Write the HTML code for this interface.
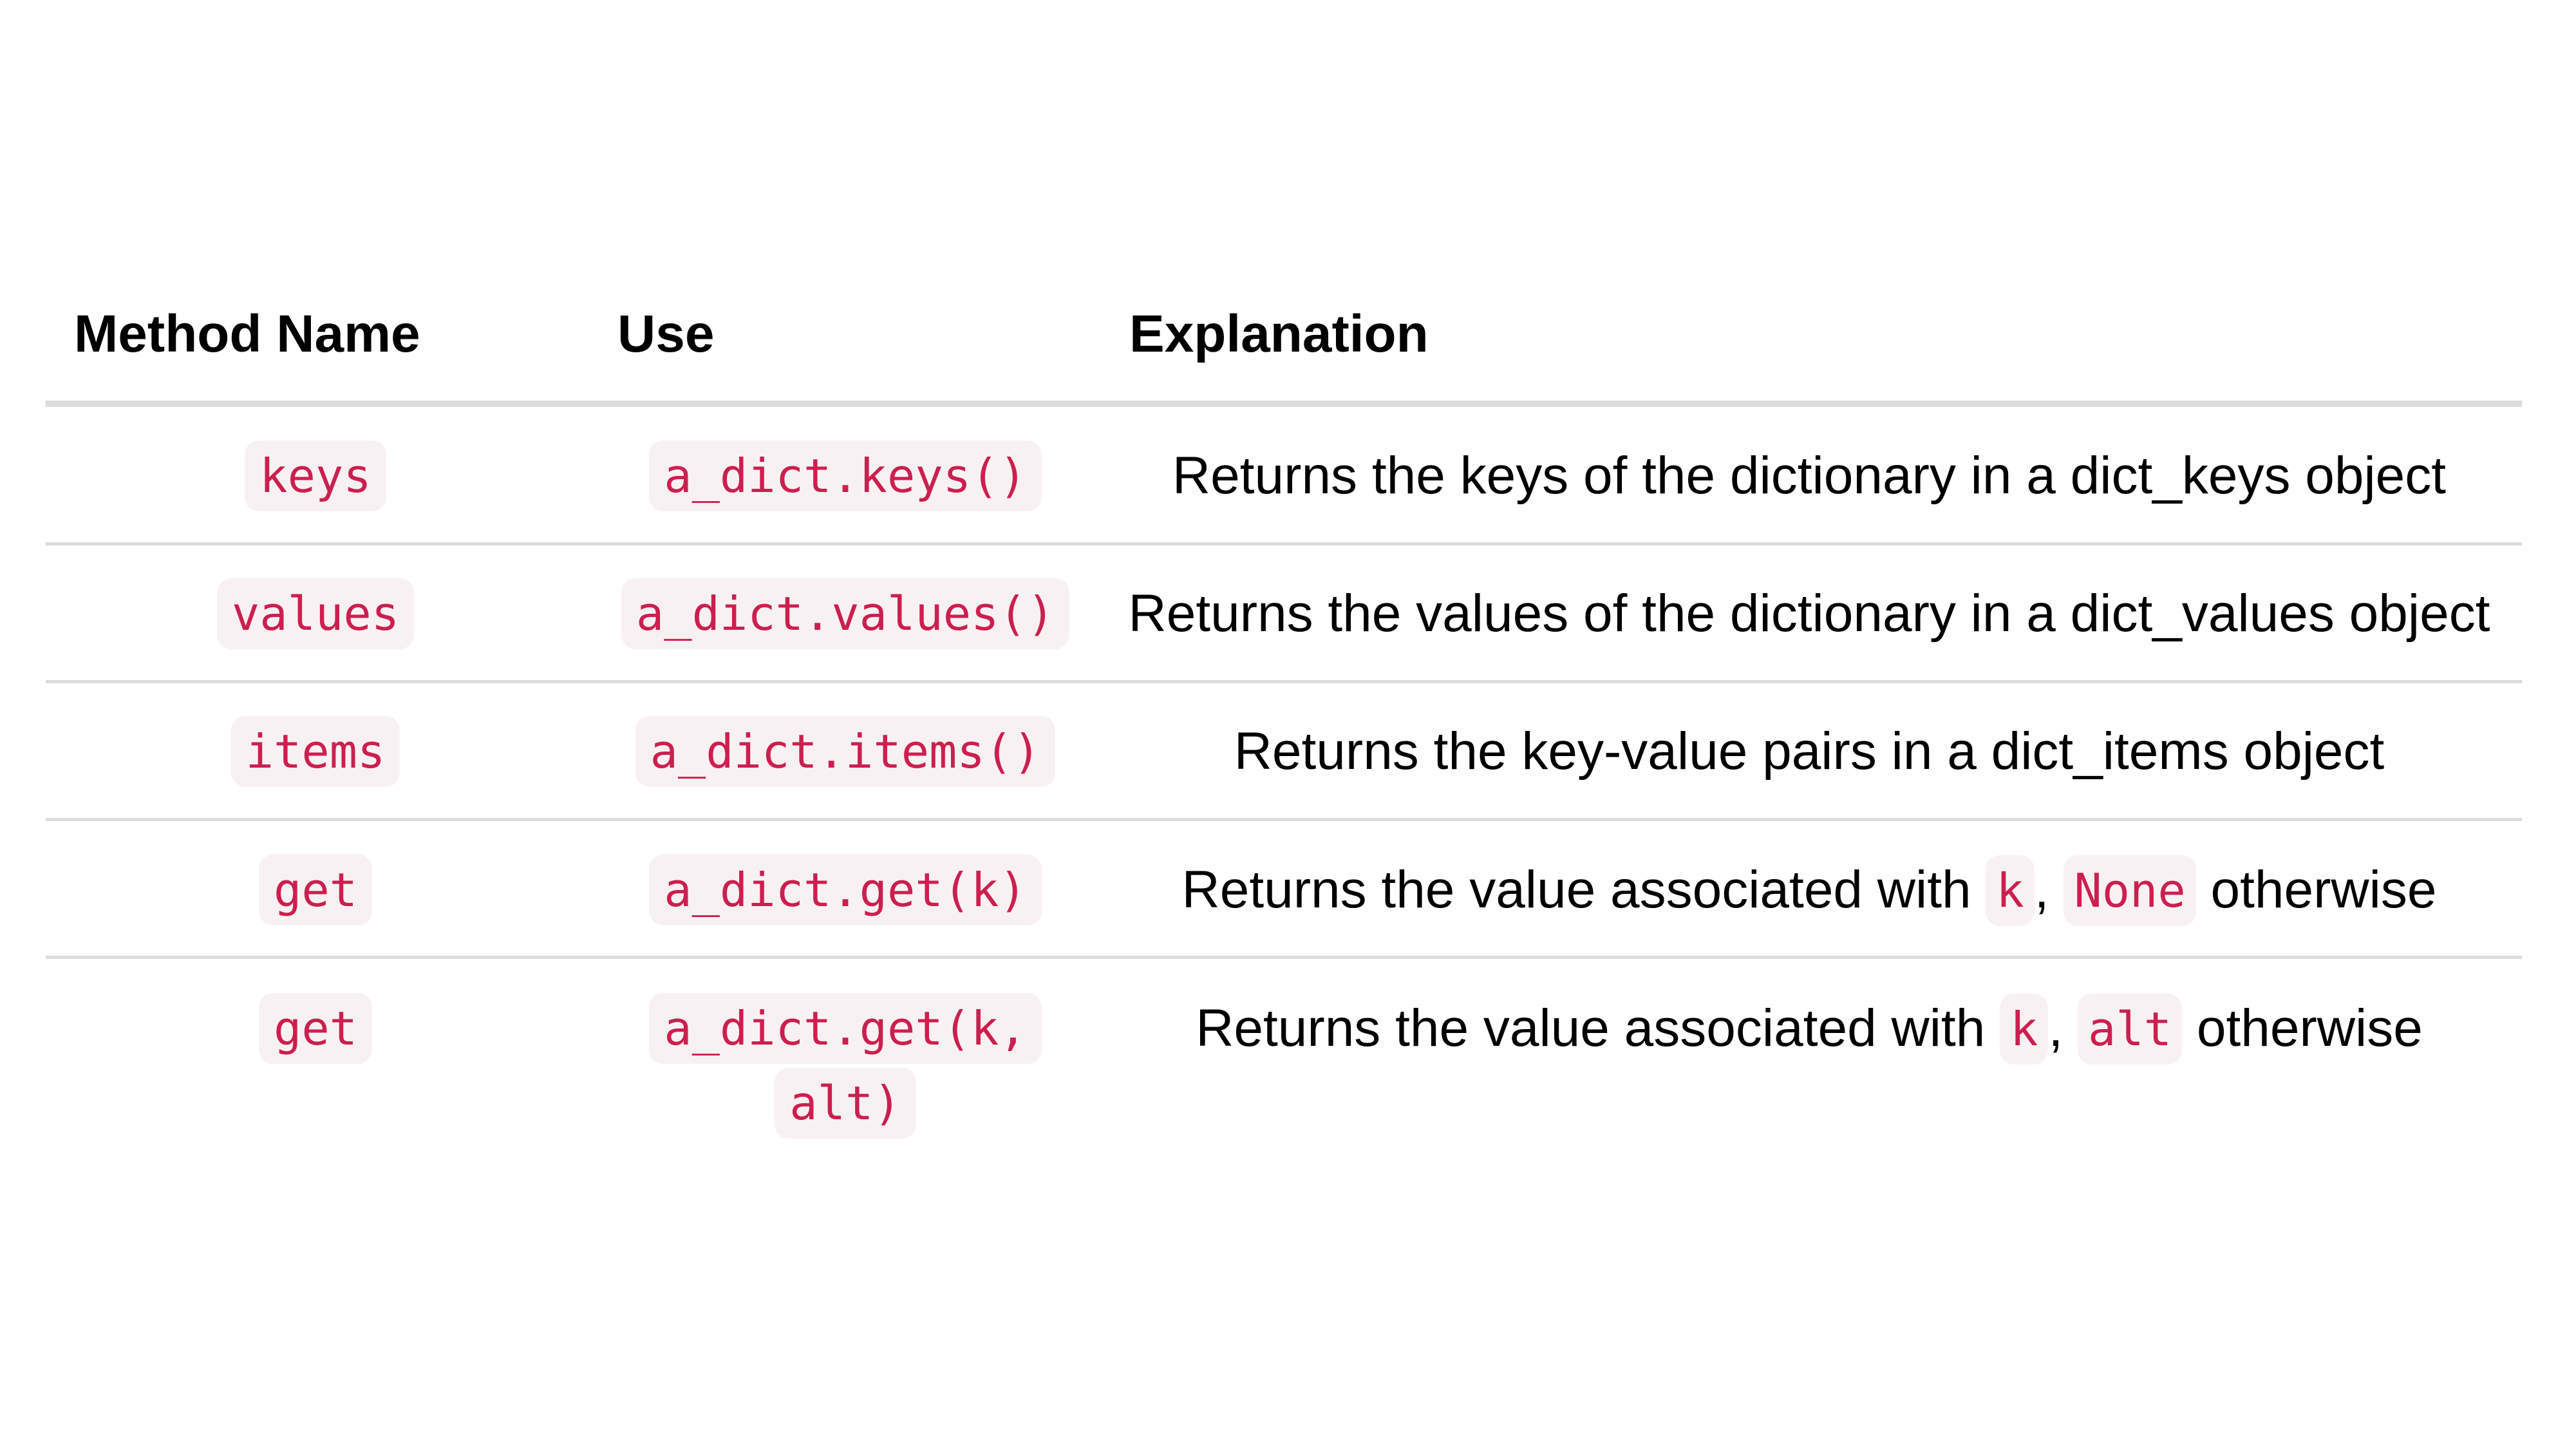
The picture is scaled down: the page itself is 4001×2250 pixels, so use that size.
<!DOCTYPE html>
<html><head><meta charset="utf-8"><style>
html,body{margin:0;padding:0;background:#fff;}
body{width:4001px;height:2250px;position:relative;overflow:hidden;font-family:"Liberation Sans",Arial,sans-serif;}
.h{position:absolute;top:469px;font-weight:bold;font-size:82px;line-height:100px;color:#000;}
.line{position:absolute;left:71px;width:3846px;background:#dcdcdc;}
.cell{position:absolute;height:110px;line-height:110px;text-align:center;white-space:nowrap;}
.c1{left:190px;width:600px;}
.c2{left:913px;width:800px;}
.c3{left:1725px;width:2170px;font-size:82px;color:#000;}
code{font-family:"DejaVu Sans Mono","Liberation Mono",monospace;font-size:72px;color:#cc1f4f;background:#f8f1f3;border-radius:22px;padding:0 23px;display:inline-block;height:110px;line-height:110px;vertical-align:middle;}
.c3 code{padding:0 16px;position:relative;top:-4px;}
</style></head><body>
<div class="h" style="left:115px">Method Name</div>
<div class="h" style="left:959px">Use</div>
<div class="h" style="left:1754px">Explanation</div>
<div class="line" style="top:622px;height:10px"></div>
<div class="line" style="top:842px;height:5px"></div>
<div class="line" style="top:1056px;height:5px"></div>
<div class="line" style="top:1270px;height:5px"></div>
<div class="line" style="top:1484px;height:5px"></div>

<div class="cell c1" style="top:684px"><code>keys</code></div>
<div class="cell c2" style="top:684px"><code>a_dict.keys()</code></div>
<div class="cell c3" style="top:684px">Returns the keys of the dictionary in a dict_keys object</div>

<div class="cell c1" style="top:898px"><code>values</code></div>
<div class="cell c2" style="top:898px"><code>a_dict.values()</code></div>
<div class="cell c3" style="top:898px">Returns the values of the dictionary in a dict_values object</div>

<div class="cell c1" style="top:1112px"><code>items</code></div>
<div class="cell c2" style="top:1112px"><code>a_dict.items()</code></div>
<div class="cell c3" style="top:1112px">Returns the key-value pairs in a dict_items object</div>

<div class="cell c1" style="top:1327px"><code>get</code></div>
<div class="cell c2" style="top:1327px"><code>a_dict.get(k)</code></div>
<div class="cell c3" style="top:1327px">Returns the value associated with <code>k</code>, <code>None</code> otherwise</div>

<div class="cell c1" style="top:1542px"><code>get</code></div>
<div class="cell c2" style="top:1542px"><code>a_dict.get(k,</code></div>
<div class="cell c2" style="top:1658px"><code>alt)</code></div>
<div class="cell c3" style="top:1542px">Returns the value associated with <code>k</code>, <code>alt</code> otherwise</div>
</body></html>
